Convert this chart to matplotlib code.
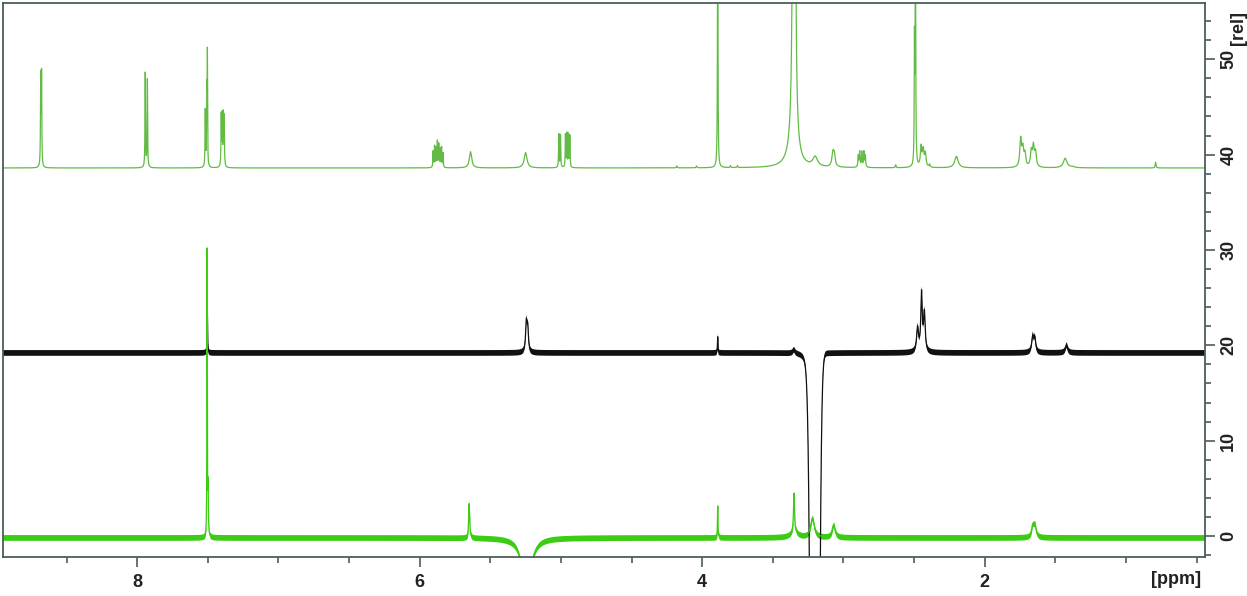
# 1H NMR stack: reference spectrum (top) and two difference spectra

import numpy as np
import matplotlib.pyplot as plt
from matplotlib.ticker import MultipleLocator

# peak tables: (ppm, height above baseline, half width in ppm)
top_base = 38.6
top_peaks = [
    (8.683, 9.3, 0.002), (8.677, 9.5, 0.002),
    (7.943, 9.9, 0.002), (7.928, 9.2, 0.002),
    (7.518, 5.9, 0.002), (7.507, 7.7, 0.002), (7.503, 11.0, 0.0015),
    (7.405, 5.3, 0.002), (7.398, 5.2, 0.002), (7.390, 5.2, 0.002), (7.384, 5.0, 0.002),
    (5.905, 1.7, 0.002), (5.895, 2.2, 0.002), (5.885, 2.0, 0.002), (5.875, 2.7, 0.002),
    (5.865, 2.4, 0.002), (5.855, 1.9, 0.002), (5.845, 2.1, 0.002), (5.835, 1.5, 0.002),
    (5.64, 1.7, 0.010), (5.25, 1.6, 0.012),
    (5.015, 3.5, 0.002), (5.003, 3.4, 0.002), (4.968, 3.4, 0.002),
    (4.958, 3.5, 0.002), (4.947, 3.4, 0.002), (4.937, 3.3, 0.002),
    (4.18, 0.2, 0.003), (4.04, 0.2, 0.003),
    (3.89, 30.0, 0.002),
    (3.80, 0.2, 0.003), (3.75, 0.2, 0.003),
    (3.353, 60.0, 0.006), (3.345, 40.0, 0.006), (3.36, 1.5, 0.04),
    (3.20, 1.0, 0.02),
    (3.075, 1.3, 0.008), (3.065, 1.2, 0.008),
    (2.895, 1.2, 0.003), (2.885, 1.6, 0.003), (2.870, 1.6, 0.003),
    (2.855, 1.6, 0.003), (2.845, 1.2, 0.003),
    (2.63, 0.3, 0.003),
    (2.497, 12.5, 0.002), (2.490, 30.0, 0.002),
    (2.450, 2.1, 0.006), (2.435, 1.7, 0.006), (2.420, 1.4, 0.006),
    (2.39, 0.3, 0.004),
    (2.20, 1.2, 0.015),
    (1.745, 2.9, 0.007), (1.730, 1.8, 0.007), (1.715, 1.3, 0.007),
    (1.670, 1.6, 0.007), (1.655, 2.1, 0.007), (1.640, 1.5, 0.007),
    (1.43, 1.0, 0.015), (1.38, 0.1, 0.02),
    (0.79, 0.6, 0.003),
]

mid_base = 19.2
mid_peaks = [
    (7.503, 4.3, 0.002),
    (5.245, 3.0, 0.006), (5.235, 2.4, 0.006),
    (3.89, 1.7, 0.002),
    (3.35, 0.4, 0.01),
    (3.25, -2.0, 0.02),
    (2.475, 2.5, 0.008), (2.447, 6.0, 0.006), (2.427, 4.0, 0.007),
    (1.66, 1.6, 0.008), (1.645, 1.4, 0.008),
    (1.42, 0.8, 0.01),
]
# solvent suppression hole in the middle trace (center, depth, gaussian sigma)
mid_hole = (3.202, -140.0, 0.02)

bot_base = -0.15
bot_peaks = [
    (7.505, 30.0, 0.0015), (7.498, 5.0, 0.002),
    (5.65, 3.6, 0.004),
    (5.245, -6.0, 0.035),
    (3.89, 3.3, 0.002),
    (3.35, 4.0, 0.004), (3.35, 0.6, 0.03),
    (3.22, 2.0, 0.015),
    (3.07, 1.3, 0.012),
    (1.66, 1.1, 0.01), (1.645, 1.1, 0.01),
]

x_left, x_right = 8.95, 0.44
y_bottom, y_top = -2.2, 55.9


def spectrum(ppm, base, peaks):
    y = np.full_like(ppm, base)
    for c, h, w in peaks:
        y += h / (1 + ((ppm - c) / w) ** 2)
    return y


ppm = np.linspace(x_left, x_right, 40000)
y_top_tr = spectrum(ppm, top_base, top_peaks)
y_mid = spectrum(ppm, mid_base, mid_peaks)
c, a, s = mid_hole
y_mid += a * np.exp(-(ppm - c) ** 2 / (2 * s ** 2))
y_bot = spectrum(ppm, bot_base, bot_peaks)

frame = "#4a5e5e"
txt = "#222222"
font = ["Liberation Sans", "DejaVu Sans"]

fig = plt.figure(figsize=(12.47, 5.96), dpi=100)
ax = fig.add_axes([3 / 1247, 39 / 596, 1202 / 1247, 554 / 596])

ax.plot(ppm, y_top_tr, color="#62bb45", lw=0.9)
# noisy traces: thin band around the line
ax.fill_between(ppm, y_mid - 0.3, y_mid + 0.3, color="#111111", lw=0)
ax.plot(ppm, y_mid, color="#111111", lw=0.9)
ax.fill_between(ppm, y_bot - 0.3, y_bot + 0.3, color="#3ccc14", lw=0)
ax.plot(ppm, y_bot, color="#3ccc14", lw=0.9)

ax.set_xlim(x_left, x_right)
ax.set_ylim(y_bottom, y_top)

for sp in ax.spines.values():
    sp.set_color(frame)
    sp.set_linewidth(1.3)

ax.xaxis.set_major_locator(MultipleLocator(2))
ax.xaxis.set_minor_locator(MultipleLocator(0.5))
ax.yaxis.set_major_locator(MultipleLocator(10))
ax.yaxis.set_minor_locator(MultipleLocator(2))
ax.yaxis.tick_right()
ax.tick_params(which="major", length=7, width=1.2, color=frame, labelcolor=txt,
               labelsize=13, pad=4)
ax.tick_params(which="minor", length=4, width=1.2, color=frame)
ax.tick_params(axis="x", which="major", pad=5)
for lab in ax.get_xticklabels() + ax.get_yticklabels():
    lab.set_fontweight("bold")
    lab.set_fontfamily(font)
for lab in ax.get_yticklabels():
    lab.set_rotation(90)
    lab.set_va("center")

fig.text(1176 / 1247, 1 - 580 / 596, "[ppm]", ha="center", va="center",
         fontsize=13, fontweight="bold", color=txt, family=font)
fig.text(1238 / 1247, 1 - 28 / 596, "[rel]", ha="center", va="center",
         rotation=90, fontsize=13, fontweight="bold", color=txt, family=font)

plt.savefig("out.png", dpi=100)
